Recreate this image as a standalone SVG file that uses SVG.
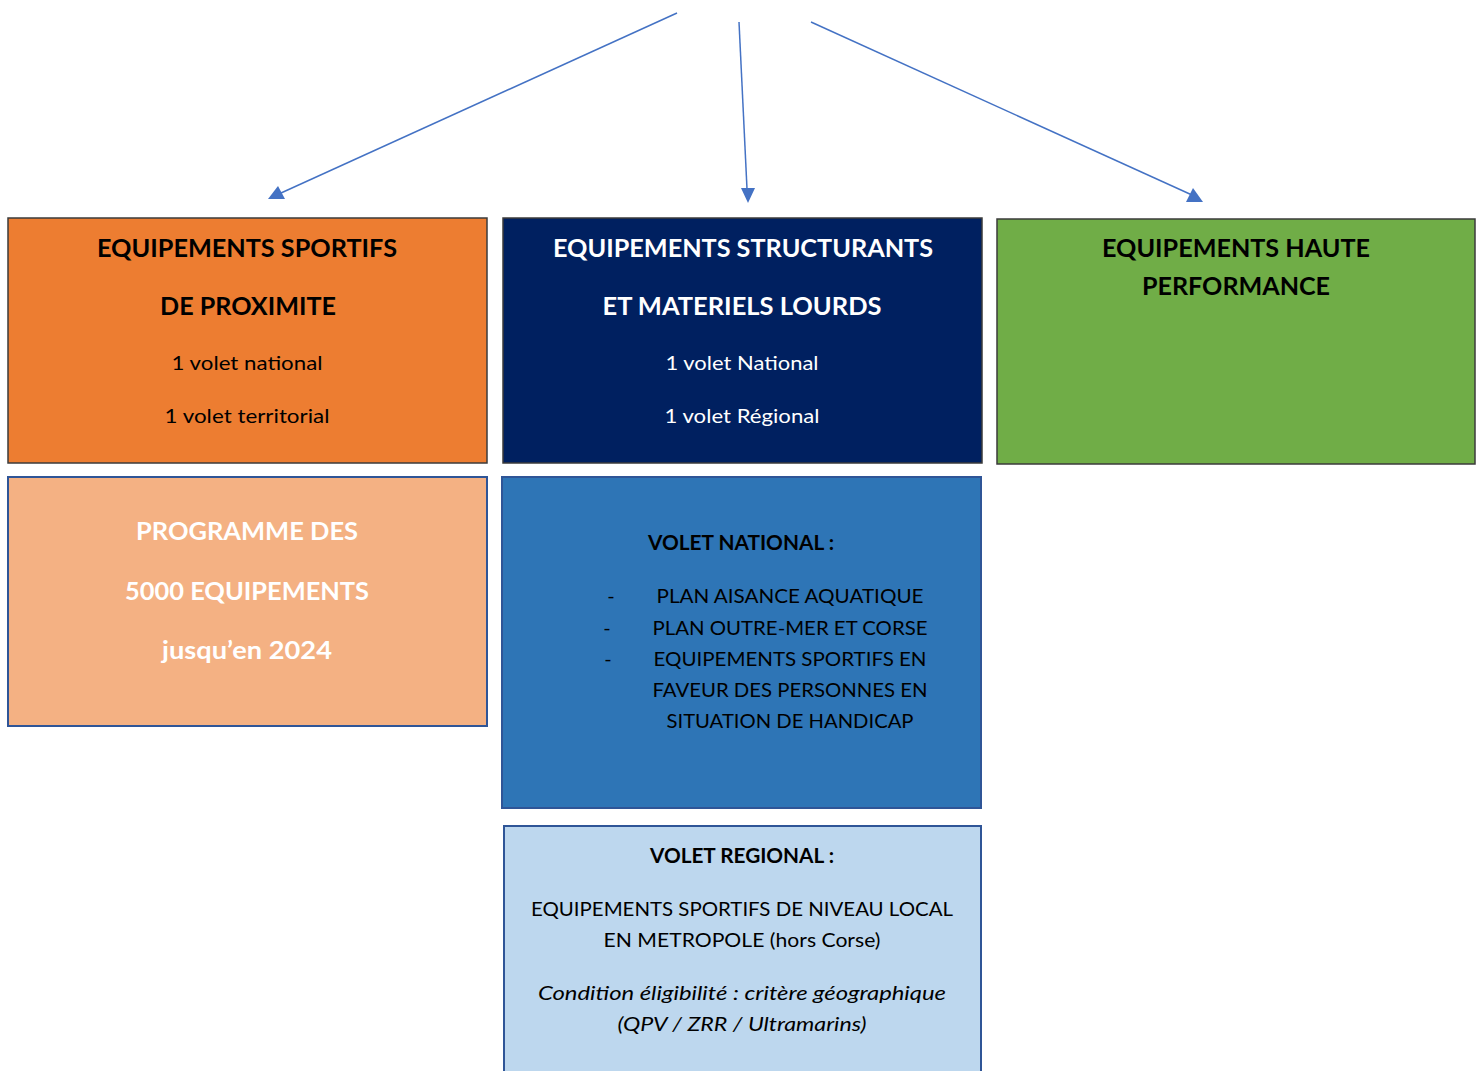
<svg xmlns="http://www.w3.org/2000/svg" width="1482" height="1071" viewBox="0 0 1482 1071">
<style>
text{font-family:Lato,"Liberation Sans",sans-serif;text-anchor:middle}
.b{font-weight:bold;font-size:25px}
.r{font-size:20px}
.rb{font-weight:bold;font-size:20px}
.i{font-style:italic;font-size:20px}
.top{stroke:#3b3b3b;stroke-width:1.5}
.low{stroke:#2F5597;stroke-width:2}
.k{fill:#000}
.w{fill:#fff}
.ln{stroke:#4472C4;stroke-width:1.5;fill:none}
.ah{fill:#4472C4}
</style>
<g id="connectors">
<line class="ln" x1="677" y1="13" x2="281" y2="193"/>
<polygon class="ah" points="268,199 285,199 278,186"/>
<line class="ln" x1="739" y1="22" x2="747" y2="189"/>
<polygon class="ah" points="741,188 755,188 748,203"/>
<line class="ln" x1="811" y1="22" x2="1192" y2="195"/>
<polygon class="ah" points="1186,202 1203,202 1193,188"/>
</g>
<g id="proximite">
<rect class="top" x="8" y="218" width="479" height="245" fill="#ED7D31"/>
<text class="b k" x="247" y="257" textLength="300" lengthAdjust="spacingAndGlyphs">EQUIPEMENTS SPORTIFS</text>
<text class="b k" x="248" y="315" textLength="176" lengthAdjust="spacingAndGlyphs">DE PROXIMITE</text>
<text class="r k" x="247" y="370" textLength="151" lengthAdjust="spacingAndGlyphs">1 volet national</text>
<text class="r k" x="247" y="423" textLength="165" lengthAdjust="spacingAndGlyphs">1 volet territorial</text>
</g>
<g id="structurants">
<rect class="top" x="503" y="218" width="479" height="245" fill="#002060"/>
<text class="b w" x="743" y="257" textLength="380" lengthAdjust="spacingAndGlyphs">EQUIPEMENTS STRUCTURANTS</text>
<text class="b w" x="742" y="315" textLength="279" lengthAdjust="spacingAndGlyphs">ET MATERIELS LOURDS</text>
<text class="r w" x="742" y="370" textLength="153" lengthAdjust="spacingAndGlyphs">1 volet National</text>
<text class="r w" x="742" y="423" textLength="155" lengthAdjust="spacingAndGlyphs">1 volet Régional</text>
</g>
<g id="haute-performance">
<rect class="top" x="997" y="219" width="478" height="245" fill="#70AD47"/>
<text class="b k" x="1236" y="257" textLength="268" lengthAdjust="spacingAndGlyphs">EQUIPEMENTS HAUTE</text>
<text class="b k" x="1236" y="295" textLength="188" lengthAdjust="spacingAndGlyphs">PERFORMANCE</text>
</g>
<g id="programme">
<rect class="low" x="8" y="477" width="479" height="249" fill="#F4B183"/>
<text class="b w" x="247" y="540" textLength="222" lengthAdjust="spacingAndGlyphs">PROGRAMME DES</text>
<text class="b w" x="247" y="600" textLength="244" lengthAdjust="spacingAndGlyphs">5000 EQUIPEMENTS</text>
<text class="b w" x="247" y="659" textLength="170" lengthAdjust="spacingAndGlyphs">jusqu’en 2024</text>
</g>
<g id="volet-national">
<rect class="low" x="502" y="477" width="479" height="331" fill="#2E75B6"/>
<text class="rb k" x="741" y="550" textLength="186" lengthAdjust="spacingAndGlyphs">VOLET NATIONAL :</text>
<text class="r k" x="611" y="603">-</text>
<text class="r k" x="790" y="603" textLength="267" lengthAdjust="spacingAndGlyphs">PLAN AISANCE AQUATIQUE</text>
<text class="r k" x="607" y="635">-</text>
<text class="r k" x="790" y="635" textLength="275" lengthAdjust="spacingAndGlyphs">PLAN OUTRE-MER ET CORSE</text>
<text class="r k" x="608" y="666">-</text>
<text class="r k" x="790" y="666" textLength="273" lengthAdjust="spacingAndGlyphs">EQUIPEMENTS SPORTIFS EN</text>
<text class="r k" x="790" y="697" textLength="275" lengthAdjust="spacingAndGlyphs">FAVEUR DES PERSONNES EN</text>
<text class="r k" x="790" y="728" textLength="247" lengthAdjust="spacingAndGlyphs">SITUATION DE HANDICAP</text>
</g>
<g id="volet-regional">
<rect class="low" x="504" y="826" width="477" height="260" fill="#BDD7EE"/>
<text class="rb k" x="742" y="863" textLength="184" lengthAdjust="spacingAndGlyphs">VOLET REGIONAL :</text>
<text class="r k" x="742" y="916" textLength="422" lengthAdjust="spacingAndGlyphs">EQUIPEMENTS SPORTIFS DE NIVEAU LOCAL</text>
<text class="r k" x="742" y="947" textLength="277" lengthAdjust="spacingAndGlyphs">EN METROPOLE (hors Corse)</text>
<text class="i k" x="742" y="1000" textLength="408" lengthAdjust="spacingAndGlyphs">Condition éligibilité : critère géographique</text>
<text class="i k" x="742" y="1031" textLength="249" lengthAdjust="spacingAndGlyphs">(QPV / ZRR / Ultramarins)</text>
</g>
</svg>
